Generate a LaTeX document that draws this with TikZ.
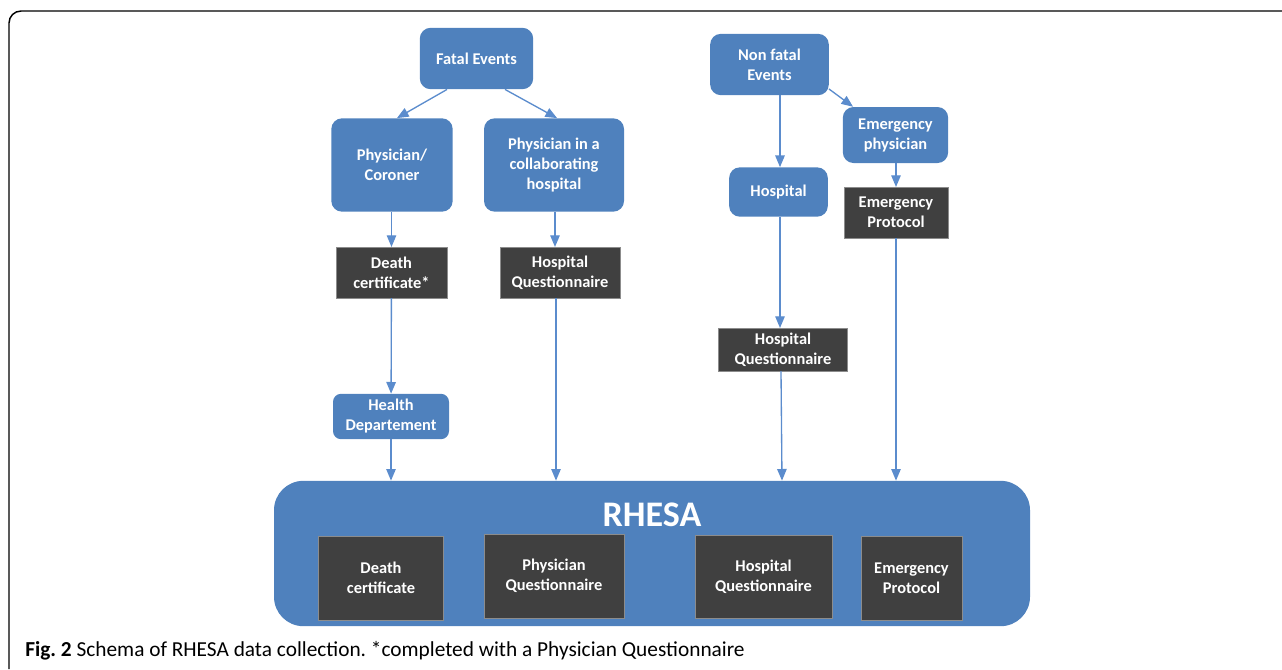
\documentclass[tikz,border=0pt]{standalone}
\usepackage{fontspec}
\setmainfont{Carlito}
\frenchspacing
\usetikzlibrary{arrows}
\definecolor{officeBlue}{RGB}{79, 129, 189}
\definecolor{arrowBlue}{RGB}{91, 140, 205}
\definecolor{darkGrey}{RGB}{64, 64, 64}
\definecolor{edgeGrey}{RGB}{140, 140, 140}

\begin{document}
\begin{tikzpicture}
    [
		x=0.75pt, y=-0.75pt,
		source/.style={
			rectangle, rounded corners=8pt, fill=officeBlue, text=white,
			align=center, font=\fontsize{12.3}{15}\selectfont\bfseries
		},
		record/.style={
			rectangle, fill=darkGrey, draw=edgeGrey, thin, text=white,
			align=center, font=\fontsize{12.3}{15}\selectfont\bfseries
		},
		flow/.style={
			-triangle 45, color=arrowBlue, line width=1pt
		}
	]

\useasboundingbox (0,0) rectangle (1282,669);

% frame
\draw [line width=1.1pt, rounded corners=9pt] (1282,11) -- (9,11) -- (9,669);

% Nodes
\node (fatal) [source, minimum width=85pt, minimum height=46pt] at (476.5,58.5) {Fatal Events};
\node (coroner) [source, minimum width=91pt, minimum height=70pt] at (392,165) {Physician/\\Coroner};
\node (collab) [source, minimum width=105pt, minimum height=70pt] at (554,165) {Physician in a\\collaborating\\hospital};
\node (nonfatal) [source, minimum width=89pt, minimum height=46pt] at (769.5,64.5) {Non fatal\\Events};
\node (emphys) [source, minimum width=79pt, minimum height=42pt] at (895.5,135) {Emergency\\physician};
\node (hospital) [source, minimum width=74pt, minimum height=37pt] at (778.5,192) {Hospital};
\node (health) [source, rounded corners=6pt, minimum width=87pt, minimum height=34pt] at (391,416.5) {Health\\Departement};

\node (deathcert) [record, minimum width=83pt, minimum height=38pt] at (391.5,272.5) {Death\\certificate*};
\node (hospqA) [record, minimum width=90pt, minimum height=38pt] at (560,272.5) {Hospital\\Questionnaire};
\node (emprot) [record, minimum width=78pt, minimum height=38pt] at (896,212.5) {Emergency\\Protocol};
\node (hospqB) [record, minimum width=97pt, minimum height=32pt] at (783,349.5) {Hospital\\Questionnaire};

% RHESA
\node (rhesa) [source, rounded corners=22pt, minimum width=567pt, minimum height=109pt] at (652,553.5) {};
\node (rhesatitle) [text=white, font=\fontsize{27}{32}\selectfont\bfseries] at (652,515) {RHESA};
\node (dc) [record, minimum width=94pt, minimum height=63pt] at (381,578) {Death\\certificate};
\node (pq) [record, minimum width=105pt, minimum height=63pt] at (554,576) {Physician\\Questionnaire};
\node (hq) [record, minimum width=103pt, minimum height=62pt] at (763.5,577) {Hospital\\Questionnaire};
\node (ep) [record, minimum width=76pt, minimum height=63pt] at (911.5,578) {Emergency\\Protocol};

% caption
\node (caption) [anchor=base west, font=\fontsize{16}{19}\selectfont, inner sep=0pt] at (25,656)
	{\textbf{Fig. 2} Schema of RHESA data collection. *completed with a Physician Questionnaire};

% Transitions
\draw [flow] (fatal.south -| 447,0) -- (coroner.north -| 397,0);
\draw [flow] (fatal.south -| 505,0) -- (collab.north -| 557,0);
\draw [flow] (coroner.south -| deathcert) -- (deathcert);
\draw [flow] (collab.south -| 555,0) -- (hospqA.north -| 555,0);
\draw [flow] (deathcert) -- (health);
\draw [flow] (health) -- (rhesa.north -| health);
\draw [flow] (hospqA.south -| 556,0) -- (rhesa.north -| 556,0);

\draw [flow] (nonfatal.south -| 780,0) -- (hospital.north -| 780,0);
\draw [flow] (829,89) -- (emphys.north -| 853,0);
\draw [flow] (emphys.south -| emprot) -- (emprot);
\draw [flow] (hospital.south -| 780,0) -- (hospqB.north -| 780,0);
\draw [flow] (hospqB.south -| 781,0) -- (rhesa.north -| 782,0);
\draw [flow] (emprot.south -| 896,0) -- (rhesa.north -| 896,0);

\end{tikzpicture}
\end{document}
